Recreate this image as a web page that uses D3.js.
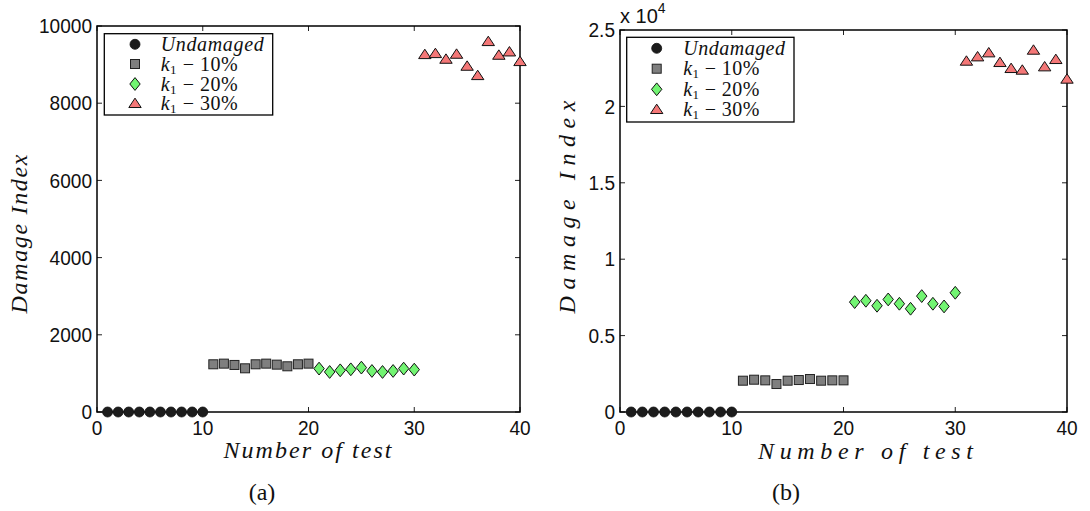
<!DOCTYPE html>
<html>
<head>
<meta charset="utf-8">
<script src="https://cdn.jsdelivr.net/npm/d3@7"></script>
<style>
  html, body { margin: 0; padding: 0; background: #fff; }
  svg { display: block; }
</style>
</head>
<body>
<svg id="chart" width="1090" height="511"></svg>
<script>
// Test numbers for each damage state
const undamagedTests = [1, 2, 3, 4, 5, 6, 7, 8, 9, 10];
const k10Tests = [11, 12, 13, 14, 15, 16, 17, 18, 19, 20];
const k20Tests = [21, 22, 23, 24, 25, 26, 27, 28, 29, 30];
const k30Tests = [31, 32, 33, 34, 35, 36, 37, 38, 39, 40];

// Panel (a) damage index values
const undamagedA = [0, 0, 0, 0, 0, 0, 0, 0, 0, 0];
const k10A = [1236, 1253, 1219, 1132, 1236, 1253, 1227, 1184, 1236, 1253];
const k20A = [1124, 1037, 1080, 1106, 1150, 1063, 1037, 1063, 1124, 1098];
const k30A = [9265, 9291, 9144, 9274, 8963, 8721, 9602, 9248, 9334, 9084];

// Panel (b) damage index values
const undamagedB = [0, 0, 0, 0, 0, 0, 0, 0, 0, 0];
const k10B = [2049, 2114, 2071, 1831, 2049, 2092, 2158, 2049, 2071, 2071];
const k20B = [7193, 7280, 6953, 7367, 7084, 6757, 7585, 7084, 6909, 7803];
const k30B = [22973, 23256, 23518, 22886, 22493, 22384, 23692, 22602, 23082, 21796];

// Axis ticks
const xTicks = [0, 10, 20, 30, 40];
const yTicksA = [0, 2000, 4000, 6000, 8000, 10000];
const yTickLabelsA = ["0", "2000", "4000", "6000", "8000", "10000"];
const yTicksB = [0, 5000, 10000, 15000, 20000, 25000];
const yTickLabelsB = ["0", "0.5", "1", "1.5", "2", "2.5"];

// Legend entries
const legendLabels = ["Undamaged", "10%", "20%", "30%"];

const svg = d3.select("#chart");
const serif = "'Liberation Serif', 'DejaVu Serif', serif";
const sans = "'Liberation Sans', Arial, sans-serif";
const tickFont = 20;

// width a tick label should occupy (Helvetica-like digits ~10.6px, point ~5.3px)
const labelWidth = s => Array.from(s).reduce((w, c) => w + (c === "." ? 5.3 : 10.6), 0);

const styles = [
  { shape: "circle", fill: "#1c1c1c" },
  { shape: "square", fill: "#7f7f7f" },
  { shape: "diamond", fill: "#72f472" },
  { shape: "triangle", fill: "#f47777" }
];

function drawMarker(g, shape, fill, cx, cy) {
  if (shape === "circle") {
    g.append("circle").attr("cx", cx).attr("cy", cy).attr("r", 5)
      .attr("fill", fill).attr("stroke", "#111").attr("stroke-width", 0.8);
  } else if (shape === "square") {
    g.append("rect").attr("x", cx - 4.5).attr("y", cy - 4.5)
      .attr("width", 9).attr("height", 9)
      .attr("fill", fill).attr("stroke", "#222").attr("stroke-width", 1);
  } else if (shape === "diamond") {
    const w = 5.2, h = 6.4;
    g.append("path")
      .attr("d", `M${cx},${cy - h}L${cx + w},${cy}L${cx},${cy + h}L${cx - w},${cy}Z`)
      .attr("fill", fill).attr("stroke", "#111").attr("stroke-width", 1);
  } else {
    const w = 6.2, h = 9.4;
    g.append("path")
      .attr("d", `M${cx},${cy - h * 0.55}L${cx + w},${cy + h * 0.45}L${cx - w},${cy + h * 0.45}Z`)
      .attr("fill", fill).attr("stroke", "#111").attr("stroke-width", 1);
  }
}

function panel(cfg) {
  const x = d3.scaleLinear().domain([0, 40]).range([cfg.left, cfg.right]);
  const y = d3.scaleLinear().domain([0, cfg.yMax]).range([cfg.bottom, cfg.top]);
  const g = svg.append("g");

  // inward tick marks on all four sides
  const tickLen = 5;
  const ticks = g.append("g").attr("stroke", "#222").attr("stroke-width", 1);
  xTicks.forEach(t => {
    ticks.append("line").attr("x1", x(t)).attr("x2", x(t))
      .attr("y1", cfg.bottom).attr("y2", cfg.bottom - tickLen);
    ticks.append("line").attr("x1", x(t)).attr("x2", x(t))
      .attr("y1", cfg.top).attr("y2", cfg.top + tickLen);
  });
  cfg.yTicks.forEach(t => {
    ticks.append("line").attr("x1", cfg.left).attr("x2", cfg.left + tickLen)
      .attr("y1", y(t)).attr("y2", y(t));
    ticks.append("line").attr("x1", cfg.right).attr("x2", cfg.right - tickLen)
      .attr("y1", y(t)).attr("y2", y(t));
  });

  // frame
  g.append("rect").attr("x", cfg.left).attr("y", cfg.top)
    .attr("width", cfg.right - cfg.left).attr("height", cfg.bottom - cfg.top)
    .attr("fill", "none").attr("stroke", "#000").attr("stroke-width", 1.5);

  // tick labels
  g.append("g").selectAll("text").data(xTicks).join("text")
    .attr("x", d => x(d)).attr("y", cfg.bottom + 23)
    .attr("text-anchor", "middle")
    .attr("font-family", sans).attr("font-size", tickFont).attr("fill", "#111")
    .attr("textLength", d => labelWidth(String(d))).attr("lengthAdjust", "spacingAndGlyphs")
    .text(d => d);
  g.append("g").selectAll("text").data(cfg.yTicks).join("text")
    .attr("x", cfg.left - 5).attr("y", d => y(d)).attr("dy", "0.36em")
    .attr("text-anchor", "end")
    .attr("font-family", sans).attr("font-size", tickFont).attr("fill", "#111")
    .attr("textLength", (d, i) => labelWidth(cfg.yTickLabels[i])).attr("lengthAdjust", "spacingAndGlyphs")
    .text((d, i) => cfg.yTickLabels[i]);

  // axis titles
  g.append("text")
    .attr("x", cfg.xLabelX).attr("y", cfg.xLabelY)
    .attr("text-anchor", "middle")
    .attr("font-family", serif).attr("font-style", "italic").attr("font-size", 24)
    .attr("fill", "#111")
    .attr("textLength", cfg.xLabelLen).attr("lengthAdjust", "spacing")
    .text("Number of test");
  g.append("text")
    .attr("transform", `translate(${cfg.yLabelX},${cfg.yLabelY}) rotate(-90)`)
    .attr("text-anchor", "middle")
    .attr("font-family", serif).attr("font-style", "italic").attr("font-size", 24)
    .attr("fill", "#111")
    .attr("textLength", cfg.yLabelLen).attr("lengthAdjust", "spacing")
    .text("Damage Index");

  // caption
  g.append("text").attr("x", cfg.captionX).attr("y", 500)
    .attr("text-anchor", "middle")
    .attr("font-family", serif).attr("font-size", 24).attr("fill", "#111")
    .text(cfg.caption);

  // data points
  const series = [
    { xs: undamagedTests, ys: cfg.data[0] },
    { xs: k10Tests, ys: cfg.data[1] },
    { xs: k20Tests, ys: cfg.data[2] },
    { xs: k30Tests, ys: cfg.data[3] }
  ];
  const pts = g.append("g");
  series.forEach((s, si) => {
    s.xs.forEach((t, i) => drawMarker(pts, styles[si].shape, styles[si].fill, x(t), y(s.ys[i])));
  });

  // legend
  const lg = g.append("g");
  lg.append("rect").attr("x", cfg.legend.x).attr("y", cfg.legend.y)
    .attr("width", cfg.legend.w).attr("height", cfg.legend.h)
    .attr("fill", "#fff").attr("stroke", "#000").attr("stroke-width", 1.3);
  legendLabels.forEach((lab, i) => {
    const ry = cfg.legend.rows[i];
    drawMarker(lg, styles[i].shape, styles[i].fill, cfg.legend.mx, ry);
    const t = lg.append("text").attr("x", cfg.legend.tx).attr("y", ry + 6.5)
      .attr("font-family", serif).attr("font-size", 20).attr("fill", "#111");
    if (i === 0) {
      t.attr("font-style", "italic").attr("textLength", cfg.legend.uLen)
        .attr("lengthAdjust", "spacing").text(lab);
    } else {
      t.attr("textLength", cfg.legend.kLen).attr("lengthAdjust", "spacing");
      t.append("tspan").attr("font-style", "italic").text("k");
      t.append("tspan").attr("font-size", 13).attr("dy", 3).text("1");
      t.append("tspan").attr("dy", -3).text(" \u2212 " + lab);
    }
  });

  return { x, y, g };
}

panel({
  left: 97, right: 520, top: 26, bottom: 412, yMax: 10000,
  yTicks: yTicksA, yTickLabels: yTickLabelsA,
  xLabelX: 307.5, xLabelY: 458, xLabelLen: 168,
  yLabelX: 27, yLabelY: 234, yLabelLen: 159,
  caption: "(a)", captionX: 262,
  data: [undamagedA, k10A, k20A, k30A],
  legend: { x: 104.3, y: 33.7, w: 168.4, h: 81.3, rows: [44.3, 64, 84, 103.3], mx: 135, tx: 160.7, uLen: 103, kLen: 77 }
});

panel({
  left: 620, right: 1067, top: 30, bottom: 412, yMax: 25000,
  yTicks: yTicksB, yTickLabels: yTickLabelsB,
  xLabelX: 865.5, xLabelY: 459, xLabelLen: 215,
  yLabelX: 575, yLabelY: 207, yLabelLen: 213,
  caption: "(b)", captionX: 786,
  data: [undamagedB, k10B, k20B, k30B],
  legend: { x: 626.7, y: 37.3, w: 167.3, h: 84.7, rows: [48.3, 68.7, 89.3, 109.3], mx: 656.7, tx: 683.3, uLen: 101.7, kLen: 76 }
});

// exponent label for panel (b)
const ex = svg.append("text").attr("x", 620).attr("y", 23)
  .attr("font-family", sans).attr("font-size", tickFont).attr("fill", "#111");
ex.append("tspan").text("x 10");
ex.append("tspan").attr("font-size", 14).attr("dy", -10).text("4");
</script>
</body>
</html>
